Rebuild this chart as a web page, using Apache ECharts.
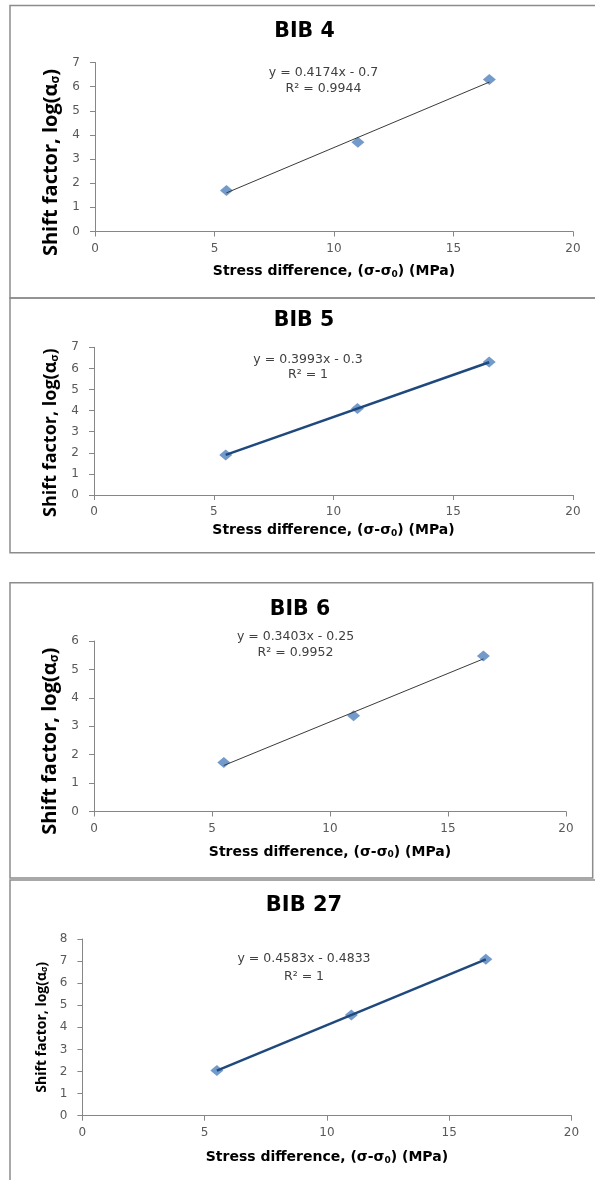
<!DOCTYPE html>
<html><head><meta charset="utf-8">
<script src="https://cdn.jsdelivr.net/npm/echarts@6/dist/echarts.min.js"></script>
<style>html,body{margin:0;padding:0;background:#fff}#c{width:595px;height:1180px}</style>
</head><body><div id="c"></div>
<script>
// ---- data ----
const stressX = [5.5, 11, 16.5];
const titles = ['BIB 4', 'BIB 5', 'BIB 6', 'BIB 27'];
const bib4 = [1.7, 3.7, 6.3];
const bib5 = [1.9, 4.1, 6.3];
const bib6 = [1.72, 3.37, 5.47];
const bib27 = [2.05, 4.56, 7.08];
const trendX = [5.5, 16.5];
const trend4 = [1.6, 6.19];
const trend5 = [1.9, 6.29];
const trend6 = [1.62, 5.37];
const trend27 = [2.04, 7.08];
const equations = [
  'y = 0.4174x - 0.7\nR² = 0.9944',
  'y = 0.3993x - 0.3\nR² = 1',
  'y = 0.3403x - 0.25\nR² = 0.9952',
  'y = 0.4583x - 0.4833\nR² = 1'
];
const xMin = 0, xMax = 20, xStep = 5;
const yMaxes = [7, 7, 6, 8];
const yStep = 1;
const xName = 'Stress difference, (σ-σ{sub|0}) (MPa)';
const yName = 'Shift factor, log(α{sub|σ})';

// ---- layout / style ----
const series = [bib4, bib5, bib6, bib27];
const trends = [trend4, trend5, trend6, trend27];
const L = [
  {grid:{left:95, top:62.5, width:478, height:169}, title:[304.5,32,20.5], eq:[323.5,81,16],
   yFont:20, yGap:30, yShift:31, xGap:32.5, trend:{color:'#3a3a3a', width:1}, border:[10,5.5,600,292.5]},
  {grid:{left:94, top:347.3, width:479, height:147.7}, title:[304,321,20.5], eq:[308,367.5,15],
   yFont:18, yGap:29.5, yShift:23, xGap:28, trend:{color:'#1F497D', width:2.5}, border:[10,298,600,254.7]},
  {grid:{left:94, top:641, width:472, height:170.5}, title:[300,609.3,20.5], eq:[295.5,644.7,16],
   yFont:20, yGap:31, yShift:30, xGap:33, trend:{color:'#3a3a3a', width:1}, border:[10,582.7,582.7,295.3]},
  {grid:{left:82.4, top:939, width:489, height:176.7}, title:[304,906,21], eq:[304,968,18],
   yFont:14, yGap:29.5, yShift:0, xGap:34, trend:{color:'#1F497D', width:2.5}, border:[10,880,600,320]}
];
const axisGray = '#868686';
const labelColor = '#595959';
const hFont = 'DejaVu Sans';

const option = {
  animation: false,
  backgroundColor: '#fff',
  grid: L.map(p => Object.assign({containLabel:false}, p.grid)),
  xAxis: L.map((p, i) => ({
    type:'value', gridIndex:i, min:xMin, max:xMax, interval:xStep,
    axisLine:{show:true, lineStyle:{color:axisGray, width:1}},
    axisTick:{show:true, length:5, lineStyle:{color:axisGray}},
    splitLine:{show:false},
    axisLabel:{color:labelColor, fontFamily:hFont, fontSize:12, margin:11},
    name:xName, nameLocation:'middle', nameGap:p.xGap,
    nameTextStyle:{fontFamily:hFont, fontWeight:'bold', fontSize:14, color:'#000',
      rich:{sub:{fontFamily:hFont, fontWeight:'bold', fontSize:9, verticalAlign:'bottom', padding:[6,0,0,0], color:'#000'}}}
  })),
  yAxis: L.map((p, i) => ({
    type:'value', gridIndex:i, min:0, max:yMaxes[i], interval:yStep,
    axisLine:{show:true, lineStyle:{color:axisGray, width:1}},
    axisTick:{show:true, length:5, lineStyle:{color:axisGray}},
    splitLine:{show:false},
    axisLabel:{color:labelColor, fontFamily:hFont, fontSize:12, margin:15},
    name:yName, nameLocation:'middle', nameRotate:90, nameGap:p.yGap,
    nameTextStyle:{fontFamily:'Open Sans', fontWeight:'bold', fontSize:p.yFont, color:'#000',
      padding:[0, p.yShift, 0, 0],
      rich:{sub:{fontFamily:'Open Sans', fontWeight:'bold', fontSize:Math.round(p.yFont*0.6),
        verticalAlign:'bottom', padding:[Math.round(p.yFont*0.45),0,0,0], color:'#000'}}}
  })),
  series: [].concat(
    series.map((vals, i) => ({
      type:'scatter', xAxisIndex:i, yAxisIndex:i, z:2,
      symbol:'diamond', symbolSize:[13, 11],
      itemStyle:{color:'#4F81BD'},
      data: stressX.map((x, k) => [x, vals[k]])
    })),
    trends.map((t, i) => ({
      type:'line', xAxisIndex:i, yAxisIndex:i, z:3,
      showSymbol:false, symbol:'none',
      lineStyle:{color:L[i].trend.color, width:L[i].trend.width},
      data: trendX.map((x, k) => [x, t[k]])
    }))
  ),
  graphic: [].concat(
    L.map(p => ({
      type:'rect', silent:true, z:-1,
      shape:{x:p.border[0], y:p.border[1], width:p.border[2], height:p.border[3]},
      style:{fill:'none', stroke:'#8c8c8c', lineWidth:1.5}
    })),
    L.map((p, i) => ({
      type:'text', silent:true, x:p.title[0], y:p.title[1],
      style:{text:titles[i], fontFamily:hFont, fontWeight:'bold', fontSize:p.title[2], fill:'#000',
        align:'center', verticalAlign:'middle'}
    })),
    L.map((p, i) => ({
      type:'text', silent:true, x:p.eq[0], y:p.eq[1],
      style:{text:equations[i], fontFamily:hFont, fontSize:12.5, lineHeight:p.eq[2], fill:'#404040',
        align:'center', verticalAlign:'middle'}
    }))
  )
};
const chart = echarts.init(document.getElementById('c'), null, {renderer:'canvas'});
chart.setOption(option);
</script></body></html>
